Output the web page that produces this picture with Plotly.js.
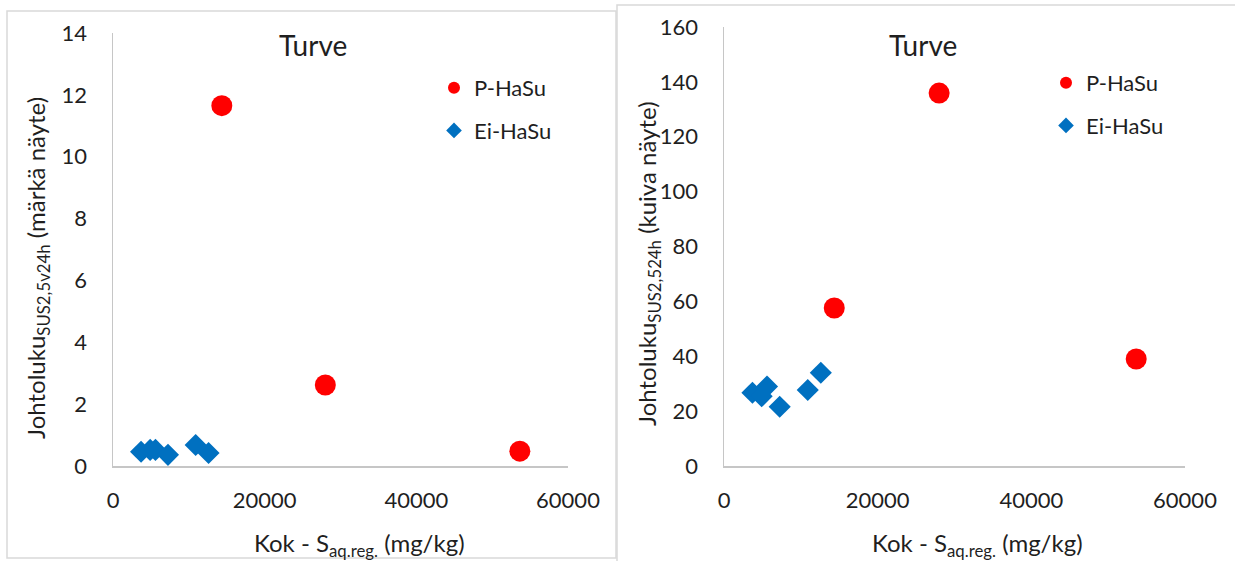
<!DOCTYPE html>
<html>
<head>
<meta charset="utf-8">
<script src="https://cdn.plot.ly/plotly-3.0.1.min.js"></script>
<style>
html,body{margin:0;padding:0;background:#fff;}
#chart{width:1235px;height:561px;}
</style>
</head>
<body>
<div id="chart"></div>
<script>
// Data
const xRed = [14350, 28000, 53650];
const yRedWet = [11.65, 2.62, 0.48];
const yRedDry = [57.6, 135.9, 39.0];

const xBlue = [3700, 4900, 5600, 7250, 10900, 12600];
const yBlueWet = [0.46, 0.52, 0.52, 0.36, 0.68, 0.42];
const yBlueDry = [26.7, 25.4, 29.0, 21.6, 27.7, 34.0];

const seriesNames = ['P-HaSu', 'Ei-HaSu'];
const xTicks = [0, 20000, 40000, 60000];

const W = 1235, H = 561;
const px = v => v / W;
const py = v => 1 - v / H;

const FONT = 'Lato, "Open Sans", sans-serif';
const TXT = '#1f1f1f';
const RED = '#ff0000';
const BLUE = '#0070c0';

const traces = [
  {x: xRed, y: yRedWet, xaxis: 'x', yaxis: 'y', mode: 'markers', type: 'scatter', name: seriesNames[0],
   marker: {symbol: 'circle', size: 21, color: RED}, legend: 'legend', legendgroup: 'a'},
  {x: xBlue, y: yBlueWet, xaxis: 'x', yaxis: 'y', mode: 'markers', type: 'scatter', name: seriesNames[1],
   marker: {symbol: 'diamond', size: 17, color: BLUE}, legend: 'legend', legendgroup: 'b'},
  {x: xRed, y: yRedDry, xaxis: 'x2', yaxis: 'y2', mode: 'markers', type: 'scatter', name: seriesNames[0],
   marker: {symbol: 'circle', size: 21, color: RED}, legend: 'legend2', legendgroup: 'c'},
  {x: xBlue, y: yBlueDry, xaxis: 'x2', yaxis: 'y2', mode: 'markers', type: 'scatter', name: seriesNames[1],
   marker: {symbol: 'diamond', size: 17, color: BLUE}, legend: 'legend2', legendgroup: 'd'}
];

const axisCommon = {
  showgrid: false, zeroline: false, showline: true, linecolor: '#c6c6c6', linewidth: 1.5,
  ticks: '', tickfont: {family: FONT, size: 22, color: TXT}, fixedrange: true
};

const legendCommon = {
  font: {family: FONT, size: 22, color: TXT}, bgcolor: 'rgba(0,0,0,0)',
  xanchor: 'left', yanchor: 'top', itemsizing: 'constant', itemwidth: 30,
  traceorder: 'grouped', tracegroupgap: 11
};

const layout = {
  width: W, height: H,
  margin: {l: 0, r: 0, t: 0, b: 0},
  paper_bgcolor: '#fff', plot_bgcolor: '#fff',
  showlegend: true,
  xaxis: Object.assign({}, axisCommon, {domain: [px(113), px(568)], range: [0, 60000],
    tickvals: xTicks, tickformat: 'd', ticklabelstandoff: 14, anchor: 'y'}),
  yaxis: Object.assign({}, axisCommon, {domain: [py(466), py(33)], range: [0, 14], dtick: 2,
    ticklabelstandoff: 20, anchor: 'x'}),
  xaxis2: Object.assign({}, axisCommon, {domain: [px(724), px(1185)], range: [0, 60000],
    tickvals: xTicks, tickformat: 'd', ticklabelstandoff: 14, anchor: 'y2'}),
  yaxis2: Object.assign({}, axisCommon, {domain: [py(466), py(27)], range: [0, 160], dtick: 20,
    ticklabelstandoff: 20, anchor: 'x2'}),
  legend: Object.assign({}, legendCommon, {x: px(434), y: py(67)}),
  legend2: Object.assign({}, legendCommon, {x: px(1046), y: py(62)}),
  shapes: [
    {type: 'rect', xref: 'paper', yref: 'paper', x0: px(7), x1: px(616), y0: py(558), y1: py(11),
     line: {color: '#d9d9d9', width: 1.5}},
    {type: 'rect', xref: 'paper', yref: 'paper', x0: px(617), x1: px(1240), y0: py(566), y1: py(5),
     line: {color: '#d9d9d9', width: 1.5}}
  ],
  annotations: [
    {text: 'Turve', xref: 'paper', yref: 'paper', x: px(313), y: py(45), showarrow: false,
     xanchor: 'center', yanchor: 'middle', font: {family: FONT, size: 28, color: TXT}},
    {text: 'Turve', xref: 'paper', yref: 'paper', x: px(923), y: py(45), showarrow: false,
     xanchor: 'center', yanchor: 'middle', font: {family: FONT, size: 28, color: TXT}},
    {text: 'Kok - S<sub>aq.reg.</sub> (mg/kg)', xref: 'paper', yref: 'paper', x: px(360), y: py(544),
     showarrow: false, xanchor: 'center', yanchor: 'middle', font: {family: FONT, size: 24, color: TXT}},
    {text: 'Kok - S<sub>aq.reg.</sub> (mg/kg)', xref: 'paper', yref: 'paper', x: px(977), y: py(544),
     showarrow: false, xanchor: 'center', yanchor: 'middle', font: {family: FONT, size: 24, color: TXT}},
    {text: 'Johtoluku<sub>SUS2,5v24h</sub> (märkä näyte)', xref: 'paper', yref: 'paper', x: px(37), y: py(268),
     showarrow: false, textangle: -90, xanchor: 'center', yanchor: 'middle', font: {family: FONT, size: 24, color: TXT}},
    {text: 'Johtoluku<sub>SUS2,524h</sub> (kuiva näyte)', xref: 'paper', yref: 'paper', x: px(648), y: py(264),
     showarrow: false, textangle: -90, xanchor: 'center', yanchor: 'middle', font: {family: FONT, size: 24, color: TXT}}
  ]
};

Plotly.newPlot('chart', traces, layout, {displayModeBar: false, staticPlot: true});
</script>
</body>
</html>
